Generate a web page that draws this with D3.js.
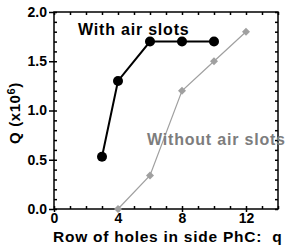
<!DOCTYPE html>
<html>
<head>
<meta charset="utf-8">
<script src="https://cdn.jsdelivr.net/npm/d3@7"></script>
<style>
  body { margin: 0; background: #fff; }
  text { font-family: "Liberation Sans", Arial, sans-serif; font-weight: bold; }
</style>
</head>
<body>
<div id="chart"></div>
<script>
// rows of holes in the side PhC
const rowsWithSlots = [3, 4, 6, 8, 10];
const qWithSlots = [0.53, 1.3, 1.7, 1.7, 1.7];
const rowsWithoutSlots = [4, 6, 8, 10, 12];
const qWithoutSlots = [0.0, 0.34, 1.2, 1.5, 1.8];
const xTickLabels = [0, 4, 8, 12];
const yTickLabels = [0.0, 0.5, 1.0, 1.5, 2.0];

const width = 289, height = 251;
const margin = {top: 12, right: 11, bottom: 42, left: 54};
const innerW = width - margin.left - margin.right;
const innerH = height - margin.top - margin.bottom;

const svg = d3.select('#chart').append('svg')
    .attr('width', width)
    .attr('height', height);

const g = svg.append('g')
    .attr('transform', `translate(${margin.left},${margin.top})`);

const x = d3.scaleLinear().domain([0, 14]).range([0, innerW]);
const y = d3.scaleLinear().domain([0, 2]).range([innerH, 0]);

const minorX = d3.range(0, 15, 1);
const minorY = d3.range(0, 2.01, 0.1);

// frame
g.append('rect')
    .attr('width', innerW).attr('height', innerH)
    .attr('fill', 'none').attr('stroke', '#000').attr('stroke-width', 1.5);

// inside minor ticks
g.append('g').call(d3.axisBottom(x).tickValues(minorX).tickSize(-3).tickFormat(''))
    .attr('transform', `translate(0,${innerH})`).call(s => s.select('.domain').remove());
g.append('g').call(d3.axisTop(x).tickValues(minorX).tickSize(-3).tickFormat(''))
    .call(s => s.select('.domain').remove());
g.append('g').call(d3.axisLeft(y).tickValues(minorY).tickSize(-3).tickFormat(''))
    .call(s => s.select('.domain').remove());
g.append('g').call(d3.axisRight(y).tickValues(minorY).tickSize(-3).tickFormat(''))
    .attr('transform', `translate(${innerW},0)`).call(s => s.select('.domain').remove());

// major axes with labels
g.append('g')
    .attr('transform', `translate(0,${innerH})`)
    .call(d3.axisBottom(x).tickValues(xTickLabels).tickSize(3).tickPadding(1).tickFormat(d3.format('d')))
    .call(s => s.select('.domain').remove())
    .selectAll('text').attr('font-size', 14).attr('fill', '#000')
    .attr('font-family', '"Liberation Sans", Arial, sans-serif').attr('font-weight', 'bold');

g.append('g')
    .call(d3.axisLeft(y).tickValues(yTickLabels).tickSize(5).tickPadding(2).tickFormat(d3.format('.1f')))
    .call(s => s.select('.domain').remove())
    .selectAll('text').attr('font-size', 14).attr('fill', '#000')
    .attr('font-family', '"Liberation Sans", Arial, sans-serif').attr('font-weight', 'bold');

g.selectAll('.tick line').attr('stroke-width', 1.5);

// series
const line = d3.line().x(d => x(d[0])).y(d => y(d[1]));

const grayData = rowsWithoutSlots.map((r, i) => [r, qWithoutSlots[i]]);
const blackData = rowsWithSlots.map((r, i) => [r, qWithSlots[i]]);

g.append('path').datum(grayData)
    .attr('d', line).attr('fill', 'none').attr('stroke', '#a0a0a0').attr('stroke-width', 1.2);
g.selectAll('.diamond').data(grayData).enter().append('path')
    .attr('class', 'diamond')
    .attr('d', d3.symbol().type(d3.symbolSquare).size(32))
    .attr('transform', d => `translate(${x(d[0])},${y(d[1])}) rotate(45)`)
    .attr('fill', '#a0a0a0');

g.append('path').datum(blackData)
    .attr('d', line).attr('fill', 'none').attr('stroke', '#000').attr('stroke-width', 2);
g.selectAll('.dot').data(blackData).enter().append('circle')
    .attr('class', 'dot')
    .attr('cx', d => x(d[0])).attr('cy', d => y(d[1]))
    .attr('r', 5).attr('fill', '#000');

// annotations
svg.append('text').attr('x', 78).attr('y', 35)
    .attr('font-size', 16).attr('letter-spacing', 0.8).attr('fill', '#000').text('With air slots');
svg.append('text').attr('x', 147).attr('y', 145)
    .attr('font-size', 16).attr('letter-spacing', 0.8).attr('fill', '#7d7d7d').text('Without air slots');

// axis titles
svg.append('text').attr('x', 53).attr('y', 242)
    .attr('font-size', 15.5).attr('letter-spacing', 0.75).attr('fill', '#000')
    .text('Row of holes in side PhC:\u00a0\u00a0q');

const yl = svg.append('text')
    .attr('transform', `translate(20,113) rotate(-90)`)
    .attr('text-anchor', 'middle')
    .attr('font-size', 15).attr('letter-spacing', 0.6).attr('fill', '#000');
yl.append('tspan').text('Q (x10');
yl.append('tspan').attr('font-size', 11).attr('dy', -5).text('6');
yl.append('tspan').attr('dy', 5).text(')');
</script>
</body>
</html>
